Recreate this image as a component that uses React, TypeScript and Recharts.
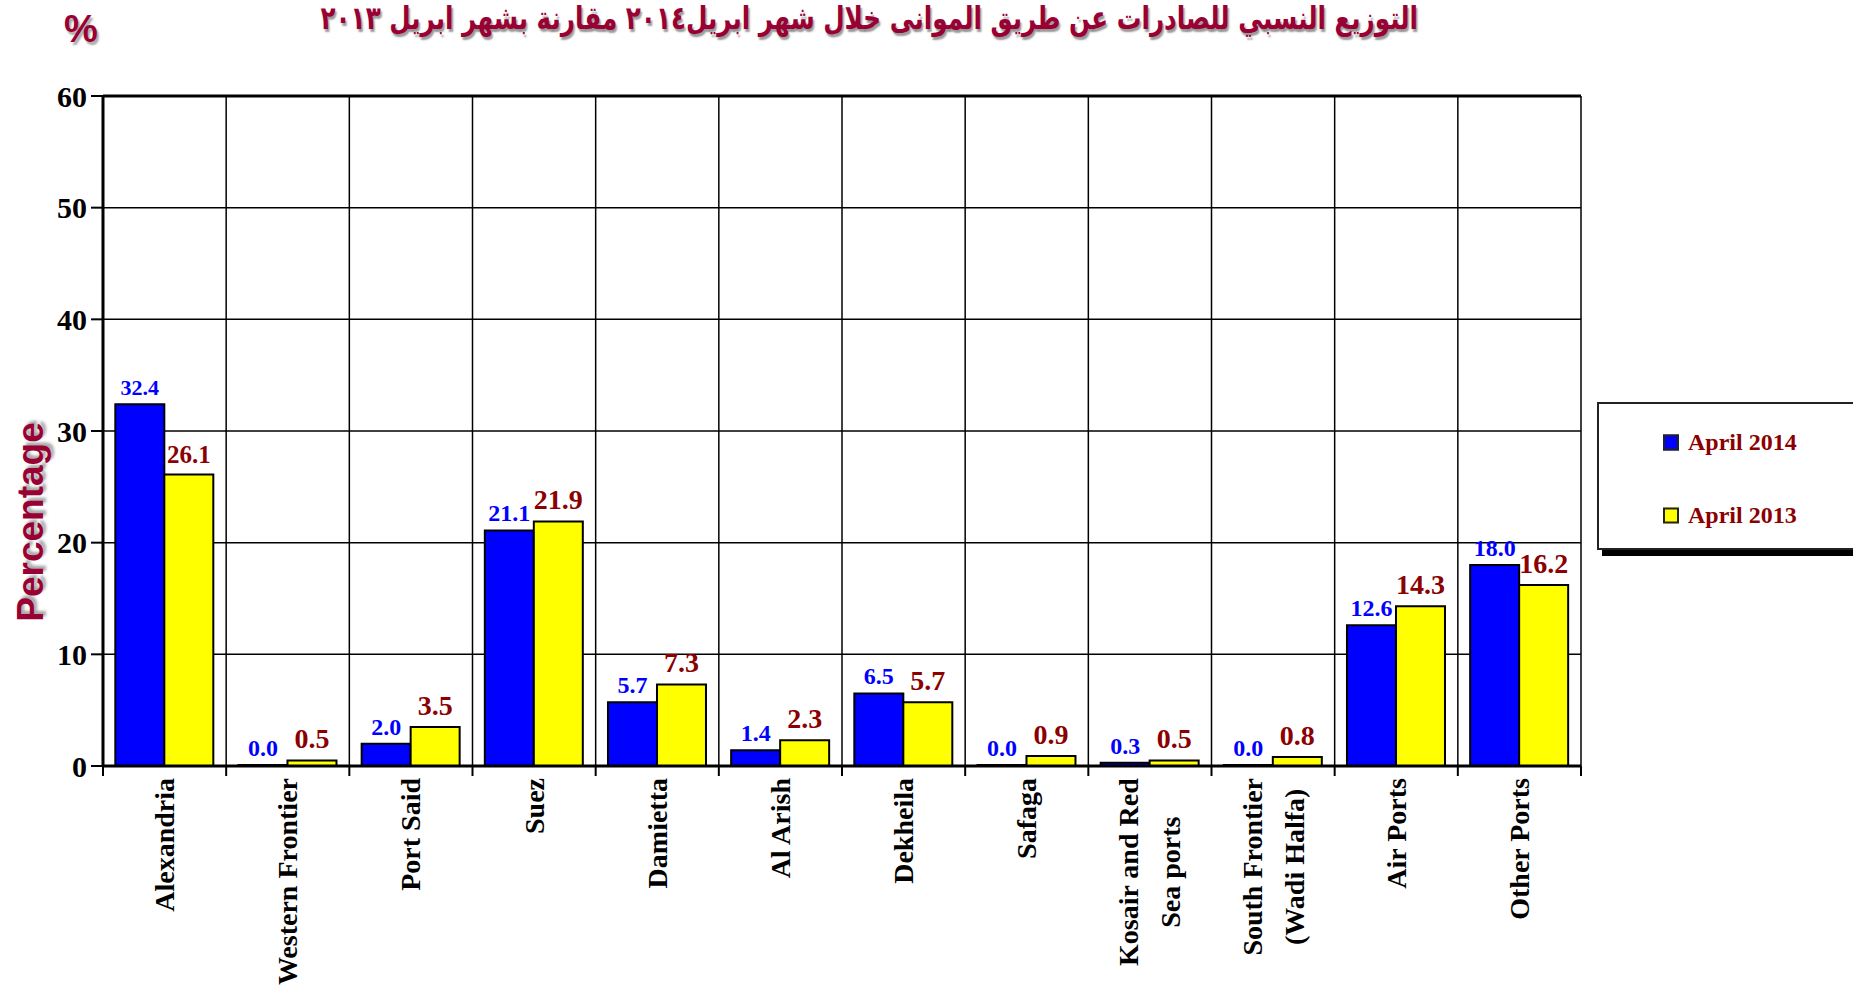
import { BarChart, Bar, XAxis, YAxis, CartesianGrid, LabelList, ReferenceLine } from "recharts"

const PORTS = [
  "Alexandria",
  "Western Frontier",
  "Port Said",
  "Suez",
  "Damietta",
  "Al Arish",
  "Dekheila",
  "Safaga",
  "Kosair and Red\nSea ports",
  "South Frontier\n(Wadi Halfa)",
  "Air Ports",
  "Other Ports",
]
const APRIL_2014 = [32.4, 0.0, 2.0, 21.1, 5.7, 1.4, 6.5, 0.0, 0.3, 0.0, 12.6, 18.0]
const APRIL_2013 = [26.1, 0.5, 3.5, 21.9, 7.3, 2.3, 5.7, 0.9, 0.5, 0.8, 14.3, 16.2]
const Y_TICKS = [0, 10, 20, 30, 40, 50, 60]
const SERIES_NAMES = ["April 2014", "April 2013"]
const TITLE = "التوزيع النسبي للصادرات عن طريق الموانى خلال شهر ابريل٢٠١٤ مقارنة بشهر ابريل ٢٠١٣"

const data = PORTS.map((port, i) => ({ port, a2014: APRIL_2014[i], a2013: APRIL_2013[i] }))

const W = 1853
const H = 985
const PLOT_LEFT = 103
const PLOT_RIGHT = 1581
const PLOT_TOP = 96
const PLOT_BOTTOM = 766
const PLOT_W = PLOT_RIGHT - PLOT_LEFT
const YAXIS_W = 80
const XAXIS_H = 200
const TICK_MARGIN = 14
const LINE_GAP = 42

const SERIF = '"Liberation Serif", "Times New Roman", serif'
const SANS = '"Liberation Sans", Arial, sans-serif'
const MAROON = "#990033"
const DARK_RED = "#8b0000"
const BLUE = "#0000ff"
const YELLOW = "#ffff00"

let measureCtx: CanvasRenderingContext2D | null = null
function textWidth(s: string, font: string) {
  if (!measureCtx) measureCtx = document.createElement("canvas").getContext("2d")
  if (!measureCtx) return s.length * 14
  measureCtx.font = font
  return measureCtx.measureText(s).width
}

function PortTick(props: any) {
  const { x, y, payload, index } = props
  const step = PLOT_W / PORTS.length
  const base = y - TICK_MARGIN
  const top = base + 12
  const lines = String(payload.value).split("\n")
  const font = `bold 28px ${SERIF}`
  const longest = Math.max(...lines.map((l) => textWidth(l, font)))
  return (
    <g>
      <line x1={x - step / 2} x2={x - step / 2} y1={base} y2={base + 10} stroke="#000" strokeWidth={2} />
      {index === PORTS.length - 1 && (
        <line x1={x + step / 2} x2={x + step / 2} y1={base} y2={base + 10} stroke="#000" strokeWidth={2} />
      )}
      {lines.map((line, i) => {
        const lx = x + (i - (lines.length - 1) / 2) * LINE_GAP
        const ly = lines.length === 1 ? top : top + longest / 2
        return (
          <text
            key={i}
            x={lx}
            y={ly}
            transform={`rotate(-90, ${lx}, ${ly})`}
            textAnchor={lines.length === 1 ? "end" : "middle"}
            dominantBaseline="central"
            fontFamily={SERIF}
            fontWeight="bold"
            fontSize={28}
            fill="#000"
          >
            {line}
          </text>
        )
      })}
    </g>
  )
}

// first category's labels are drawn a bit smaller in the original
function valueLabel(color: string, size: number, firstSize: number, gap: number) {
  return (props: any) => {
    const { x, y, width, value, index } = props
    return (
      <text
        x={x + width / 2}
        y={y - gap}
        textAnchor="middle"
        fill={color}
        fontSize={index === 0 ? firstSize : size}
        fontWeight="bold"
        fontFamily={SERIF}
      >
        {Number(value).toFixed(1)}
      </text>
    )
  }
}

function LegendBox() {
  const colors = [BLUE, YELLOW]
  return (
    <div
      style={{
        position: "absolute",
        left: 1597,
        top: 402,
        width: 270,
        height: 148,
        boxSizing: "border-box",
        border: "2px solid #222",
        background: "#fff",
        boxShadow: "5px 6px 0 #000",
      }}
    >
      {SERIES_NAMES.map((name, i) => (
        <div
          key={name}
          style={{
            position: "absolute",
            left: 64,
            top: 38 + i * 73,
            transform: "translateY(-50%)",
            display: "flex",
            alignItems: "center",
            gap: 9,
            whiteSpace: "nowrap",
          }}
        >
          <span
            style={{
              display: "inline-block",
              width: 12,
              height: 12,
              background: colors[i],
              border: "2px solid #222",
            }}
          />
          <span style={{ fontFamily: SERIF, fontWeight: "bold", fontSize: 24, color: DARK_RED }}>{name}</span>
        </div>
      ))}
    </div>
  )
}

export default function App() {
  const nCat = PORTS.length
  return (
    <div style={{ position: "absolute", left: 0, top: 0, width: W, height: H, overflow: "hidden", background: "#fff" }}>
      <div
        style={{
          position: "absolute",
          left: 179,
          width: 1400,
          top: 2,
          textAlign: "center",
          direction: "rtl",
          whiteSpace: "nowrap",
          fontFamily: '"DejaVu Sans", sans-serif',
          fontWeight: "bold",
          fontSize: 32,
          lineHeight: 1,
          color: MAROON,
          transform: "scaleX(0.77)",
          textShadow: "2px 3px 2px rgba(0,0,0,0.4)",
        }}
      >
        {TITLE}
      </div>
      <div
        style={{
          position: "absolute",
          left: 64,
          top: 10,
          fontFamily: SANS,
          fontWeight: "bold",
          fontSize: 38,
          lineHeight: 1,
          color: MAROON,
          textShadow: "2px 3px 2px rgba(0,0,0,0.35)",
        }}
      >
        %
      </div>
      <div
        style={{
          position: "absolute",
          left: 30,
          top: 522,
          transform: "translate(-50%, -50%) rotate(-90deg)",
          fontFamily: SANS,
          fontWeight: "bold",
          fontSize: 37,
          lineHeight: 1,
          whiteSpace: "nowrap",
          color: MAROON,
          textShadow: "3px 3px 3px rgba(0,0,0,0.35)",
        }}
      >
        Percentage
      </div>
      <LegendBox />
      <BarChart
        width={W}
        height={H}
        data={data}
        margin={{
          top: PLOT_TOP,
          right: W - PLOT_RIGHT,
          left: PLOT_LEFT - YAXIS_W,
          bottom: H - PLOT_BOTTOM - XAXIS_H,
        }}
        barCategoryGap="10%"
        barGap={0}
      >
        <CartesianGrid
          stroke="#000"
          strokeWidth={1.5}
          verticalCoordinatesGenerator={({ offset }: any) =>
            Array.from({ length: nCat + 1 }, (_, i) => offset.left + (i * offset.width) / nCat)
          }
        />
        <XAxis
          dataKey="port"
          interval={0}
          height={XAXIS_H}
          tickLine={false}
          tickSize={0}
          tickMargin={TICK_MARGIN}
          axisLine={{ stroke: "#000", strokeWidth: 3 }}
          tick={<PortTick />}
        />
        <YAxis
          width={YAXIS_W}
          domain={[0, 60]}
          ticks={Y_TICKS}
          interval={0}
          tickSize={12}
          tickMargin={4}
          tickLine={{ stroke: "#000", strokeWidth: 2 }}
          axisLine={{ stroke: "#000", strokeWidth: 3 }}
          tick={{ fill: "#000", fontSize: 30, fontWeight: "bold", fontFamily: SERIF }}
        />
        <ReferenceLine y={60} stroke="#000" strokeWidth={3} />
        <Bar
          dataKey="a2014"
          name={SERIES_NAMES[0]}
          fill={BLUE}
          stroke="#000"
          strokeWidth={2}
          minPointSize={(v: number) => (v === 0 ? 1 : 0)}
          isAnimationActive={false}
        >
          <LabelList dataKey="a2014" content={valueLabel(BLUE, 24, 22, 9)} />
        </Bar>
        <Bar dataKey="a2013" name={SERIES_NAMES[1]} fill={YELLOW} stroke="#000" strokeWidth={2} isAnimationActive={false}>
          <LabelList dataKey="a2013" content={valueLabel(DARK_RED, 28, 25, 12)} />
        </Bar>
      </BarChart>
    </div>
  )
}
